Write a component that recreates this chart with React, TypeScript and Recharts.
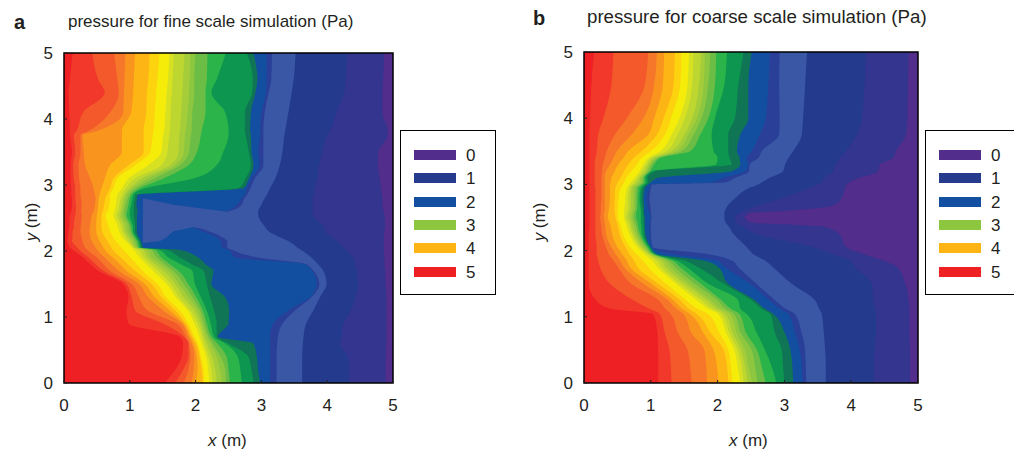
import { Area, ComposedChart, ReferenceArea, XAxis, YAxis } from 'recharts'

// contour bands from the high pressure side (left) to the low pressure side (right)
const bandColors = [
  '#ee2024', '#f1382a', '#f3592a', '#f6762a', '#f9941f', '#fdb515', '#fdd20e', '#f6ec0a',
  '#d8e022', '#bdd630', '#a5cd3a', '#8dc63f', '#6bbd45', '#2bb44a', '#0d9650', '#0f7555',
  '#134fa0', '#2a3f98', '#3a57a5', '#243a8c', '#33358f', '#522d8b',
]

const axisTicks = [0, 1, 2, 3, 4, 5]
const legendLabels = ['0', '1', '2', '3', '4', '5']
const legendColors = ['#522d8b', '#263a8e', '#134fa0', '#8dc63f', '#fdb515', '#ee2024']

const fineY = [
  5, 4.6, 4.4, 4.1, 3.82, 3.76, 3.5, 3.3, 3.1, 2.95, 2.85, 2.8, 2.7, 2.6, 2.55, 2.4, 2.36, 2.3,
  2.2, 2.15, 2.12, 2.05, 2.02, 1.9, 1.8, 1.7, 1.5, 1.3, 1.1, 0.9, 0.7, 0.6, 0.4, 0.2, 0,
]

// right edge of each band at each y in fineY
const fineEdges = [
  [0.13, 0.43, 0.76, 0.93, 1.08, 1.3, 1.45, 1.6, 1.67, 1.83, 1.92, 2.0, 2.18, 2.46, 2.78, 2.88, 3.08, 3.16, 3.52, 4.3, 4.87],
  [0.09, 0.52, 0.81, 0.92, 1.06, 1.28, 1.42, 1.58, 1.65, 1.81, 1.91, 1.98, 2.17, 2.32, 2.87, 2.94, 3.08, 3.15, 3.49, 4.28, 4.85],
  [0.07, 0.62, 0.83, 0.91, 1.05, 1.26, 1.4, 1.56, 1.64, 1.8, 1.9, 1.98, 2.15, 2.24, 2.86, 2.91, 3.07, 3.11, 3.46, 4.26, 4.84],
  [0.08, 0.29, 0.7, 0.9, 1.02, 1.25, 1.38, 1.54, 1.62, 1.78, 1.88, 1.95, 2.15, 2.45, 2.75, 2.84, 3.0, 3.05, 3.41, 4.14, 4.84],
  [0.09, 0.19, 0.37, 0.5, 0.88, 1.21, 1.36, 1.52, 1.61, 1.76, 1.85, 1.94, 2.09, 2.5, 2.75, 2.83, 2.98, 3.03, 3.36, 4.04, 4.92],
  [0.09, 0.15, 0.25, 0.28, 0.88, 1.21, 1.35, 1.51, 1.6, 1.75, 1.84, 1.93, 2.08, 2.5, 2.76, 2.84, 2.98, 3.03, 3.35, 4.0, 4.92],
  [0.12, 0.17, 0.25, 0.3, 0.88, 1.21, 1.31, 1.48, 1.57, 1.74, 1.82, 1.9, 2.02, 2.42, 2.81, 2.85, 2.95, 3.03, 3.32, 3.93, 4.78],
  [0.1, 0.14, 0.22, 0.32, 0.7, 0.98, 1.08, 1.28, 1.48, 1.61, 1.69, 1.76, 1.89, 2.32, 2.84, 2.88, 2.97, 3.03, 3.28, 3.88, 4.77],
  [0.1, 0.15, 0.23, 0.4, 0.62, 0.75, 0.81, 0.98, 1.08, 1.18, 1.27, 1.37, 1.51, 1.97, 2.76, 2.81, 2.85, 2.9, 3.21, 3.85, 4.8],
  [0.11, 0.17, 0.25, 0.45, 0.57, 0.7, 0.75, 0.88, 0.94, 1.0, 1.04, 1.09, 1.15, 1.23, 2.65, 2.73, 2.78, 2.83, 3.13, 3.81, 4.82],
  [0.11, 0.17, 0.25, 0.47, 0.54, 0.65, 0.7, 0.81, 0.88, 0.92, 0.95, 0.99, 1.02, 1.05, 1.09, 1.12, 2.75, 2.78, 3.08, 3.79, 4.83],
  [0.12, 0.17, 0.26, 0.48, 0.53, 0.63, 0.7, 0.8, 0.86, 0.9, 0.93, 0.97, 1.0, 1.04, 1.08, 1.11, 2.7, 2.74, 3.05, 3.78, 4.84],
  [0.12, 0.18, 0.27, 0.47, 0.52, 0.61, 0.69, 0.79, 0.84, 0.88, 0.91, 0.94, 0.98, 1.02, 1.06, 1.1, 2.63, 2.7, 3.0, 3.78, 4.84],
  [0.11, 0.18, 0.26, 0.45, 0.51, 0.59, 0.66, 0.77, 0.82, 0.86, 0.89, 0.92, 0.96, 1.0, 1.06, 1.12, 2.46, 2.5, 2.95, 3.78, 4.86],
  [0.09, 0.17, 0.27, 0.42, 0.5, 0.57, 0.63, 0.75, 0.8, 0.84, 0.88, 0.92, 0.95, 1.0, 1.06, 1.11, 1.23, 1.27, 2.95, 3.78, 4.87],
  [0.08, 0.15, 0.26, 0.4, 0.49, 0.57, 0.67, 0.81, 0.86, 0.9, 0.94, 0.98, 1.01, 1.04, 1.08, 1.11, 1.18, 1.22, 3.03, 3.92, 4.88],
  [0.08, 0.15, 0.25, 0.39, 0.49, 0.57, 0.68, 0.82, 0.87, 0.91, 0.95, 0.99, 1.02, 1.05, 1.08, 1.11, 1.96, 1.97, 3.06, 3.95, 4.88],
  [0.07, 0.13, 0.25, 0.39, 0.49, 0.58, 0.7, 0.84, 0.89, 0.92, 0.96, 1.0, 1.03, 1.05, 1.08, 1.11, 2.1, 2.2, 3.11, 3.97, 4.87],
  [0.06, 0.13, 0.27, 0.4, 0.52, 0.63, 0.75, 0.89, 0.94, 0.98, 1.02, 1.05, 1.08, 1.1, 1.12, 1.14, 2.33, 2.42, 3.3, 4.08, 4.86],
  [0.05, 0.12, 0.28, 0.42, 0.54, 0.66, 0.78, 0.93, 0.97, 1.01, 1.05, 1.08, 1.11, 1.13, 1.15, 1.17, 2.38, 2.48, 3.41, 4.15, 4.86],
  [0.06, 0.14, 0.29, 0.44, 0.56, 0.68, 0.81, 0.97, 1.0, 1.03, 1.06, 1.09, 1.12, 1.14, 1.16, 1.18, 2.39, 2.48, 3.46, 4.19, 4.86],
  [0.09, 0.2, 0.32, 0.48, 0.6, 0.72, 0.87, 1.03, 1.06, 1.08, 1.1, 1.12, 1.14, 1.16, 1.18, 1.2, 2.4, 2.48, 3.55, 4.25, 4.86],
  [0.13, 0.23, 0.35, 0.5, 0.62, 0.74, 0.9, 1.06, 1.13, 1.2, 1.26, 1.32, 1.38, 1.44, 1.55, 1.75, 2.5, 2.55, 3.6, 4.28, 4.86],
  [0.29, 0.37, 0.5, 0.62, 0.74, 0.86, 1.01, 1.15, 1.21, 1.27, 1.33, 1.41, 1.48, 1.59, 1.76, 2.04, 2.6, 2.95, 3.76, 4.4, 4.87],
  [0.4, 0.48, 0.6, 0.72, 0.85, 0.97, 1.1, 1.25, 1.32, 1.39, 1.46, 1.53, 1.61, 1.77, 1.94, 2.15, 3.66, 3.68, 3.86, 4.42, 4.87],
  [0.52, 0.6, 0.7, 0.83, 0.95, 1.08, 1.19, 1.35, 1.43, 1.51, 1.59, 1.66, 1.74, 1.95, 2.12, 2.27, 3.77, 3.79, 3.94, 4.45, 4.88],
  [0.9, 0.95, 1.03, 1.14, 1.23, 1.33, 1.42, 1.56, 1.62, 1.69, 1.75, 1.82, 1.89, 1.99, 2.17, 2.24, 3.84, 3.88, 3.99, 4.47, 4.89],
  [0.98, 1.03, 1.14, 1.28, 1.38, 1.48, 1.55, 1.7, 1.75, 1.82, 1.89, 1.95, 2.01, 2.08, 2.22, 2.45, 3.74, 3.76, 3.89, 4.43, 4.9],
  [0.95, 1.08, 1.27, 1.51, 1.61, 1.69, 1.76, 1.88, 1.92, 1.98, 2.03, 2.07, 2.11, 2.17, 2.28, 2.51, 3.41, 3.51, 3.79, 4.36, 4.9],
  [0.98, 1.51, 1.71, 1.79, 1.82, 1.85, 1.89, 1.98, 2.03, 2.07, 2.1, 2.13, 2.17, 2.23, 2.32, 2.5, 3.18, 3.32, 3.68, 4.25, 4.9],
  [1.76, 1.82, 1.85, 1.89, 1.92, 1.95, 1.98, 2.06, 2.1, 2.13, 2.17, 2.2, 2.24, 2.28, 2.32, 2.34, 3.13, 3.25, 3.64, 4.22, 4.9],
  [1.81, 1.89, 1.9, 1.94, 1.97, 2.01, 2.03, 2.09, 2.13, 2.17, 2.22, 2.26, 2.33, 2.45, 2.5, 2.88, 3.13, 3.24, 3.63, 4.2, 4.9],
  [1.79, 1.89, 1.92, 1.98, 2.02, 2.06, 2.08, 2.16, 2.2, 2.25, 2.32, 2.38, 2.47, 2.64, 2.8, 2.93, 3.13, 3.23, 3.62, 4.31, 4.89],
  [1.69, 1.81, 1.89, 1.97, 2.03, 2.09, 2.12, 2.19, 2.24, 2.3, 2.37, 2.45, 2.5, 2.68, 2.85, 2.95, 3.13, 3.23, 3.62, 4.33, 4.89],
  [1.53, 1.69, 1.82, 1.94, 2.0, 2.11, 2.13, 2.21, 2.26, 2.32, 2.4, 2.46, 2.52, 2.7, 2.88, 2.98, 3.13, 3.23, 3.62, 4.33, 4.89],
]

// left end of the channel tongue that the bands cannot follow: right edge of the patch at each y
const tongueStart = 1.2
const fineTongue = [
  1.2, 1.2, 1.2, 1.2, 1.2, 1.2, 1.2, 1.2, 1.2, 1.2, 1.2, 1.2, 1.66, 2.45, 2.45, 1.96, 1.96, 1.66,
  1.55, 1.46, 1.2, 1.2, 1.2, 1.2, 1.2, 1.2, 1.2, 1.2, 1.2, 1.2, 1.2, 1.2, 1.2, 1.2, 1.2,
]

const coarseY = [
  5, 4.5, 4, 3.75, 3.5, 3.4, 3.3, 3.2, 3.1, 3.03, 3, 2.95, 2.8, 2.68, 2.6, 2.57, 2.5, 2.43, 2.36,
  2.25, 2.05, 1.95, 1.85, 1.75, 1.5, 1.25, 1.12, 1.04, 0.75, 0.5, 0.25, 0,
]

const coarseEdges = [
  [0.15, 0.44, 0.96, 1.09, 1.2, 1.36, 1.46, 1.57, 1.64, 1.75, 1.81, 1.89, 1.98, 2.14, 2.39, 2.51, 2.78, 2.93, 3.34, 4.22, 4.86],
  [0.11, 0.41, 0.91, 1.05, 1.18, 1.34, 1.44, 1.55, 1.62, 1.72, 1.79, 1.86, 1.96, 2.1, 2.31, 2.46, 2.76, 2.92, 3.31, 4.2, 4.85],
  [0.09, 0.29, 0.64, 0.89, 1.05, 1.19, 1.3, 1.43, 1.51, 1.62, 1.69, 1.76, 1.86, 1.96, 2.26, 2.46, 2.72, 2.93, 3.28, 4.16, 4.84],
  [0.08, 0.21, 0.46, 0.71, 0.96, 1.09, 1.21, 1.31, 1.4, 1.5, 1.56, 1.64, 1.74, 1.91, 2.16, 2.34, 2.63, 2.92, 3.26, 4.08, 4.82],
  [0.08, 0.19, 0.34, 0.49, 0.66, 0.86, 1.0, 1.14, 1.23, 1.31, 1.39, 1.46, 1.59, 1.94, 2.16, 2.29, 2.51, 2.66, 3.13, 3.92, 4.67],
  [0.08, 0.17, 0.31, 0.44, 0.59, 0.74, 0.86, 0.96, 1.0, 1.04, 1.08, 1.11, 1.14, 2.0, 2.18, 2.33, 2.44, 2.61, 3.06, 3.83, 4.63],
  [0.08, 0.16, 0.28, 0.39, 0.51, 0.66, 0.79, 0.89, 0.93, 0.96, 0.99, 1.01, 1.05, 1.98, 2.21, 2.34, 2.46, 2.48, 3.01, 3.76, 4.43],
  [0.08, 0.16, 0.27, 0.33, 0.46, 0.6, 0.71, 0.83, 0.87, 0.91, 0.94, 0.96, 0.99, 1.01, 1.06, 2.21, 2.41, 2.47, 2.98, 3.73, 4.41],
  [0.08, 0.16, 0.26, 0.31, 0.41, 0.55, 0.63, 0.76, 0.8, 0.83, 0.85, 0.88, 0.9, 0.92, 0.95, 1.11, 2.09, 2.26, 2.78, 3.6, 4.13],
  [0.08, 0.16, 0.26, 0.31, 0.4, 0.5, 0.6, 0.7, 0.75, 0.79, 0.83, 0.87, 0.9, 0.93, 0.96, 1.0, 1.9, 2.12, 2.66, 3.55, 3.97],
  [0.08, 0.16, 0.26, 0.31, 0.39, 0.49, 0.58, 0.68, 0.72, 0.76, 0.8, 0.84, 0.87, 0.9, 0.93, 0.96, 1.0, 1.01, 2.61, 3.5, 3.93],
  [0.08, 0.17, 0.26, 0.31, 0.39, 0.47, 0.55, 0.64, 0.68, 0.71, 0.74, 0.78, 0.81, 0.85, 0.88, 0.91, 0.98, 1.0, 2.48, 3.38, 3.91],
  [0.08, 0.17, 0.26, 0.31, 0.39, 0.46, 0.52, 0.62, 0.66, 0.7, 0.74, 0.77, 0.8, 0.83, 0.86, 0.89, 0.94, 0.98, 2.27, 2.98, 3.86],
  [0.08, 0.17, 0.25, 0.31, 0.38, 0.46, 0.51, 0.61, 0.66, 0.7, 0.74, 0.77, 0.8, 0.84, 0.87, 0.9, 0.95, 0.99, 2.15, 2.6, 3.73],
  [0.08, 0.17, 0.25, 0.31, 0.37, 0.46, 0.51, 0.6, 0.65, 0.69, 0.73, 0.76, 0.79, 0.85, 0.88, 0.9, 0.97, 1.0, 2.11, 2.39, 3.0],
  [0.08, 0.17, 0.25, 0.3, 0.36, 0.46, 0.51, 0.6, 0.64, 0.68, 0.72, 0.75, 0.78, 0.85, 0.88, 0.9, 0.98, 1.0, 2.1, 2.33, 2.49],
  [0.08, 0.17, 0.24, 0.3, 0.36, 0.47, 0.51, 0.6, 0.63, 0.67, 0.71, 0.74, 0.78, 0.85, 0.89, 0.91, 1.0, 1.01, 2.1, 2.26, 2.41],
  [0.08, 0.17, 0.25, 0.31, 0.38, 0.49, 0.53, 0.62, 0.66, 0.7, 0.73, 0.76, 0.8, 0.85, 0.89, 0.91, 0.98, 1.0, 2.12, 2.28, 2.49],
  [0.08, 0.17, 0.26, 0.32, 0.4, 0.51, 0.55, 0.64, 0.68, 0.71, 0.75, 0.78, 0.81, 0.86, 0.9, 0.91, 0.98, 1.0, 2.17, 2.38, 3.6],
  [0.07, 0.17, 0.27, 0.33, 0.42, 0.53, 0.58, 0.68, 0.72, 0.75, 0.78, 0.81, 0.84, 0.87, 0.9, 0.92, 0.98, 1.0, 2.24, 2.58, 3.82],
  [0.07, 0.19, 0.33, 0.41, 0.5, 0.62, 0.69, 0.8, 0.84, 0.87, 0.9, 0.93, 0.95, 0.97, 0.99, 1.0, 1.02, 1.03, 2.44, 3.43, 3.93],
  [0.07, 0.19, 0.37, 0.47, 0.57, 0.68, 0.78, 0.9, 0.95, 0.98, 1.0, 1.02, 1.04, 1.05, 1.07, 1.09, 1.29, 1.84, 2.53, 3.71, 4.18],
  [0.07, 0.21, 0.44, 0.54, 0.64, 0.75, 0.88, 1.02, 1.09, 1.15, 1.21, 1.26, 1.32, 1.38, 1.5, 1.79, 1.99, 2.21, 2.71, 3.98, 4.48],
  [0.07, 0.24, 0.51, 0.6, 0.69, 0.8, 0.96, 1.1, 1.16, 1.22, 1.29, 1.36, 1.44, 1.54, 1.71, 2.01, 2.11, 2.31, 2.83, 4.06, 4.69],
  [0.07, 0.39, 0.71, 0.89, 1.01, 1.11, 1.23, 1.38, 1.44, 1.51, 1.58, 1.66, 1.75, 1.86, 2.09, 2.16, 2.49, 2.58, 3.11, 4.31, 4.81],
  [0.18, 0.74, 1.12, 1.26, 1.34, 1.44, 1.53, 1.69, 1.76, 1.84, 1.9, 2.0, 2.06, 2.31, 2.51, 2.56, 2.78, 2.86, 3.46, 4.33, 4.86],
  [0.4, 0.98, 1.22, 1.38, 1.47, 1.57, 1.7, 1.86, 1.92, 1.99, 2.05, 2.12, 2.2, 2.34, 2.66, 2.71, 2.93, 3.02, 3.52, 4.36, 4.87],
  [1.04, 1.14, 1.3, 1.49, 1.59, 1.69, 1.86, 2.01, 2.06, 2.12, 2.19, 2.25, 2.33, 2.44, 2.79, 2.84, 3.06, 3.16, 3.56, 4.37, 4.87],
  [1.1, 1.21, 1.41, 1.61, 1.79, 1.9, 2.03, 2.13, 2.18, 2.23, 2.29, 2.35, 2.43, 2.59, 2.86, 3.01, 3.16, 3.26, 3.59, 4.37, 4.87],
  [1.11, 1.28, 1.55, 1.8, 1.94, 2.09, 2.16, 2.25, 2.3, 2.35, 2.41, 2.51, 2.59, 2.71, 2.96, 3.09, 3.23, 3.31, 3.61, 4.35, 4.88],
  [1.11, 1.3, 1.59, 1.83, 1.99, 2.14, 2.2, 2.3, 2.36, 2.41, 2.46, 2.56, 2.66, 2.81, 2.98, 3.12, 3.26, 3.32, 3.62, 4.34, 4.88],
  [1.11, 1.31, 1.61, 1.84, 2.01, 2.16, 2.22, 2.34, 2.39, 2.45, 2.52, 2.6, 2.72, 2.88, 3.0, 3.13, 3.27, 3.33, 3.62, 4.34, 4.88],
]

const textFont = '"Liberation Sans", Arial, sans-serif'
const tickStyle = { fill: '#231f20', fontSize: 17, fontFamily: textFont }

const buildRows = (ys: number[], edges: number[][], tongue?: number[]) =>
  ys.map((y, i) => {
    const row: Record<string, any> = { y, band21: 5 }
    edges[i].forEach((x, k) => {
      row[`band${k}`] = x
    })
    if (tongue) row.tongue = [tongueStart, tongue[i]]
    return row
  })

type PanelProps = {
  left: number
  plotLeft: number
  plotRight: number
  plotTop: number
  rows: Record<string, any>[]
  hasTongue?: boolean
}

function Panel({ left, plotLeft, plotRight, plotTop, rows, hasTongue }: PanelProps) {
  const height = 453
  const width = plotRight + 20
  const bottom = height - 383
  const bands = bandColors
    .map((color, k) => (
      <Area
        key={k}
        dataKey={`band${k}`}
        type="monotone"
        fill={color}
        fillOpacity={1}
        stroke="none"
        dot={false}
        activeDot={false}
        isAnimationActive={false}
      />
    ))
    .reverse()
  return (
    <div style={{ position: 'absolute', left, top: 0 }}>
      {/* filled contours */}
      <div style={{ position: 'absolute', left: 0, top: 0 }}>
        <ComposedChart
          width={width}
          height={height}
          data={rows}
          layout="vertical"
          margin={{ left: plotLeft, right: 20, top: plotTop, bottom }}
        >
          <XAxis type="number" domain={[0, 5]} hide />
          <YAxis type="number" dataKey="y" domain={[0, 5]} reversed hide />
          {bands.slice(0, 6)}
          {hasTongue && (
            <Area
              dataKey="tongue"
              type="linear"
              fill={bandColors[18]}
              fillOpacity={1}
              stroke="none"
              dot={false}
              activeDot={false}
              isAnimationActive={false}
            />
          )}
          {bands.slice(6)}
        </ComposedChart>
      </div>
      {/* axes and frame sit on top of the fills, the ticks point inwards */}
      <div style={{ position: 'absolute', left: 0, top: 0 }}>
        <ComposedChart
          width={width}
          height={height}
          data={rows}
          layout="vertical"
          margin={{ left: plotLeft - 40, right: 20, top: plotTop, bottom: bottom - 30 }}
        >
          <XAxis
            type="number"
            domain={[0, 5]}
            ticks={axisTicks}
            height={30}
            tick={tickStyle}
            tickSize={-3}
            tickMargin={19}
            interval={0}
            axisLine={false}
            tickLine={{ stroke: '#231f20' }}
          />
          <YAxis
            type="number"
            dataKey="y"
            domain={[0, 5]}
            ticks={axisTicks}
            reversed
            width={40}
            tick={tickStyle}
            tickSize={-3}
            tickMargin={14}
            interval={0}
            axisLine={false}
            tickLine={{ stroke: '#231f20' }}
          />
          {/* an invisible series so the x axis gets its scale */}
          <Area dataKey="band21" fill="none" stroke="none" dot={false} activeDot={false} isAnimationActive={false} />
          <ReferenceArea x1={0} x2={5} y1={0} y2={5} fill="none" stroke="#000" strokeWidth={1.5} />
        </ComposedChart>
      </div>
    </div>
  )
}

function ContourLegend({ left }: { left: number }) {
  return (
    <div
      style={{
        position: 'absolute',
        left,
        top: 130,
        width: 96,
        height: 165,
        border: '1px solid #000',
        boxSizing: 'border-box',
        background: '#fff',
      }}
    >
      {legendLabels.map((label, i) => (
        <div key={label} style={{ position: 'absolute', left: 13, top: 19 + i * 23.3, height: 10, width: 80 }}>
          <div style={{ position: 'absolute', left: 0, top: 0, width: 42, height: 10, background: legendColors[i] }} />
          <span style={{ position: 'absolute', left: 52, top: -3, fontSize: 17, lineHeight: '18px', color: '#231f20', fontFamily: textFont }}>
            {label}
          </span>
        </div>
      ))}
    </div>
  )
}

function Caption({ left, top, children, bold, size = 17 }: { left: number; top: number; children: any; bold?: boolean; size?: number }) {
  return (
    <div
      style={{
        position: 'absolute',
        left,
        top,
        fontFamily: textFont,
        fontSize: size,
        fontWeight: bold ? 700 : 400,
        color: '#231f20',
        whiteSpace: 'nowrap',
        lineHeight: 1.2,
      }}
    >
      {children}
    </div>
  )
}

function YLabel({ left }: { left: number }) {
  return (
    <div
      style={{
        position: 'absolute',
        left,
        top: 213,
        transform: 'rotate(-90deg)',
        fontFamily: textFont,
        fontSize: 17,
        color: '#231f20',
        whiteSpace: 'nowrap',
        lineHeight: '18px',
        width: 50,
        textAlign: 'center',
      }}
    >
      <i>y</i> (m)
    </div>
  )
}

export default function App() {
  return (
    <div style={{ position: 'absolute', left: 0, top: 0, width: 1014, height: 453, overflow: 'hidden', background: '#fff' }}>
      <Panel left={0} plotLeft={64} plotRight={393} plotTop={53} rows={buildRows(fineY, fineEdges, fineTongue)} hasTongue />
      <Panel left={520} plotLeft={64} plotRight={398} plotTop={52} rows={buildRows(coarseY, coarseEdges)} />
      <ContourLegend left={400} />
      <ContourLegend left={925} />
      <Caption left={14} top={10} bold size={20}>a</Caption>
      <Caption left={68} top={12}>pressure for fine scale simulation (Pa)</Caption>
      <Caption left={533} top={6} bold size={20}>b</Caption>
      <Caption left={587} top={6} size={18.7}>pressure for coarse scale simulation (Pa)</Caption>
      <Caption left={208} top={431}><i>x</i> (m)</Caption>
      <Caption left={729} top={431}><i>x</i> (m)</Caption>
      <YLabel left={7} />
      <YLabel left={515} />
    </div>
  )
}
